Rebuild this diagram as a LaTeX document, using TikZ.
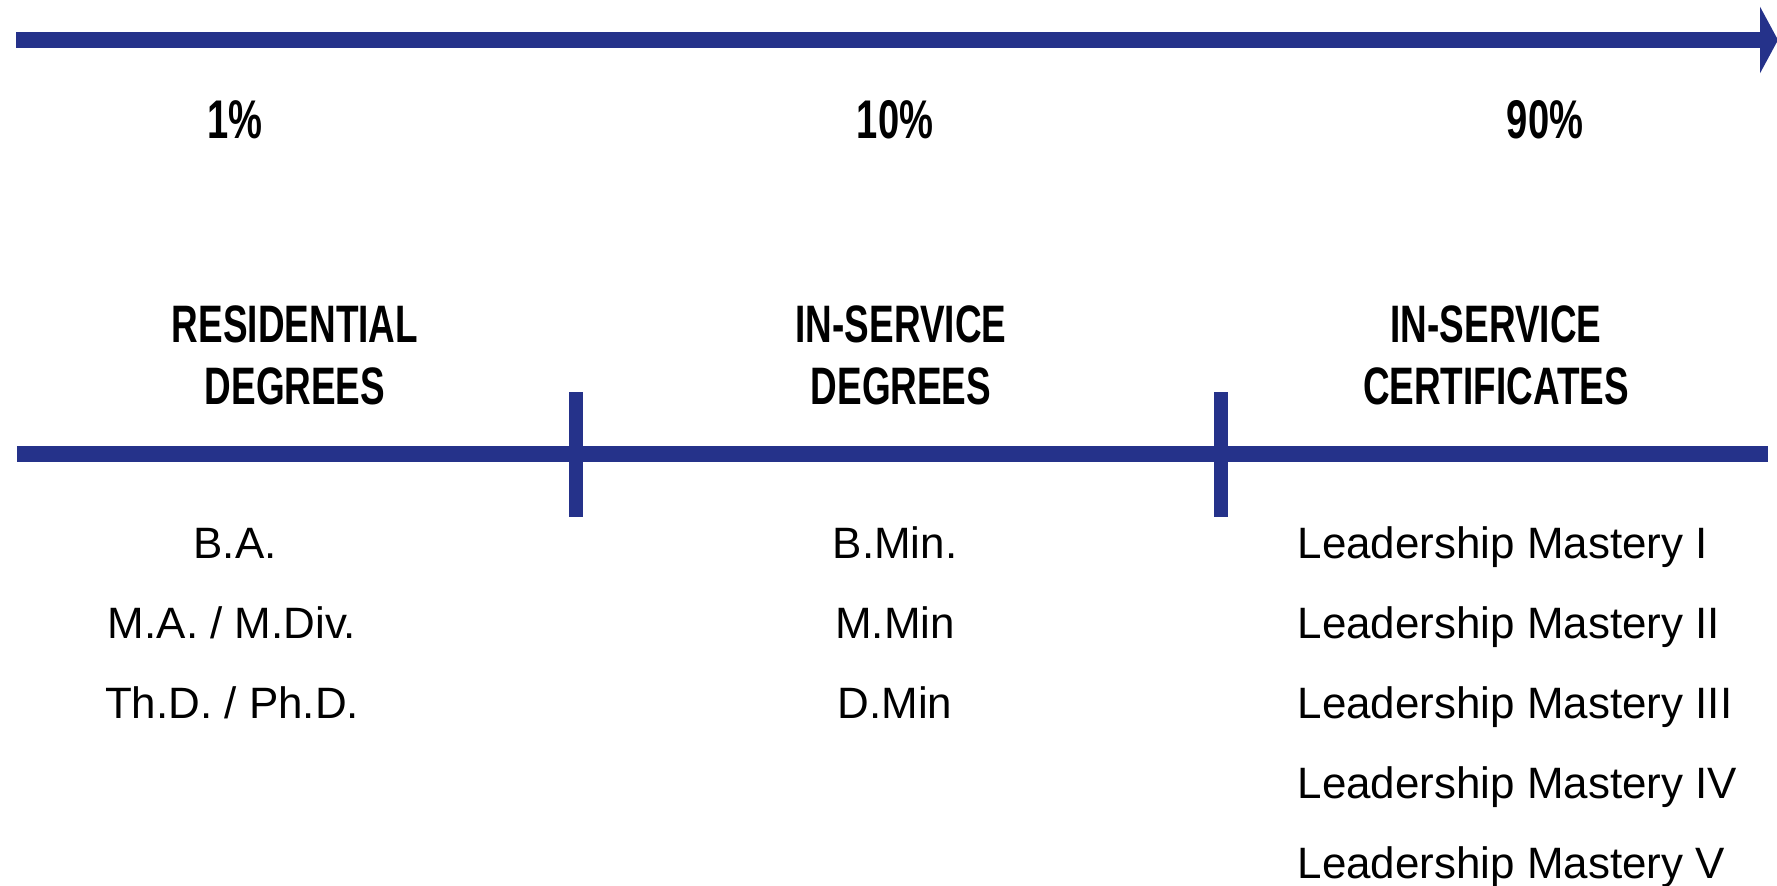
\documentclass[tikz,border=0pt]{standalone}
\usepackage{fontspec}
\setmainfont{Liberation Sans}
\newfontfamily\condfont[FakeStretch=0.7]{Liberation Sans}
\usetikzlibrary{arrows.meta}
\definecolor{barblue}{RGB}{37,50,138}
\tikzset{
	bar/.style={draw=barblue, line width=4.6pt},
	tick/.style={draw=barblue, line width=4pt},
	pct/.style={font=\condfont\bfseries\fontsize{15.5}{18}\selectfont},
	head/.style={align=center, font=\condfont\bfseries\fontsize{15}{17.6}\selectfont},
	item/.style={anchor=base, inner sep=0pt, font=\fontsize{12.5}{15}\selectfont},
}
\begin{document}
\begin{tikzpicture}[scale=1]
	\useasboundingbox (0,0) rectangle (17.77,-8.86);
	\coordinate (topstart) at (0.16,-0.40);
	\coordinate (topend) at (17.78,-0.40);
	\coordinate (midstart) at (0.17,-4.54);
	\coordinate (midend) at (17.68,-4.54);
	\draw[bar, -{Triangle[length=1.8mm, width=6.6mm]}] (topstart) -- (topend);
	\draw[bar] (midstart) -- (midend);
	\draw[tick] (5.76,-3.92) -- (5.76,-5.17);
	\draw[tick] (12.21,-3.92) -- (12.21,-5.17);
	\node[pct] (pctres) at (2.35,-1.20) {1\%};
	\node[pct] (pctdeg) at (8.95,-1.20) {10\%};
	\node[pct] (pctcert) at (15.45,-1.20) {90\%};
	\node[head] (headres) at (2.95,-3.55) {RESIDENTIAL\\DEGREES};
	\node[head] (headdeg) at (9.01,-3.55) {IN-SERVICE\\DEGREES};
	\node[head] (headcert) at (14.96,-3.55) {IN-SERVICE\\CERTIFICATES};
	\node[item] (ba) at (2.35,-5.58) {B.A.};
	\node[item] (ma) at (2.32,-6.38) {M.A. / M.Div.};
	\node[item] (thd) at (2.32,-7.18) {Th.D. / Ph.D.};
	\node[item] (bmin) at (8.95,-5.58) {B.Min.};
	\node[item] (mmin) at (8.95,-6.38) {M.Min};
	\node[item] (dmin) at (8.95,-7.18) {D.Min};
	\node[item, anchor=base west] (lm1) at (12.97,-5.58) {Leadership Mastery I};
	\node[item, anchor=base west] (lm2) at (12.97,-6.38) {Leadership Mastery II};
	\node[item, anchor=base west] (lm3) at (12.97,-7.18) {Leadership Mastery III};
	\node[item, anchor=base west] (lm4) at (12.97,-7.98) {Leadership Mastery IV};
	\node[item, anchor=base west] (lm5) at (12.97,-8.78) {Leadership Mastery V};
\end{tikzpicture}
\end{document}
